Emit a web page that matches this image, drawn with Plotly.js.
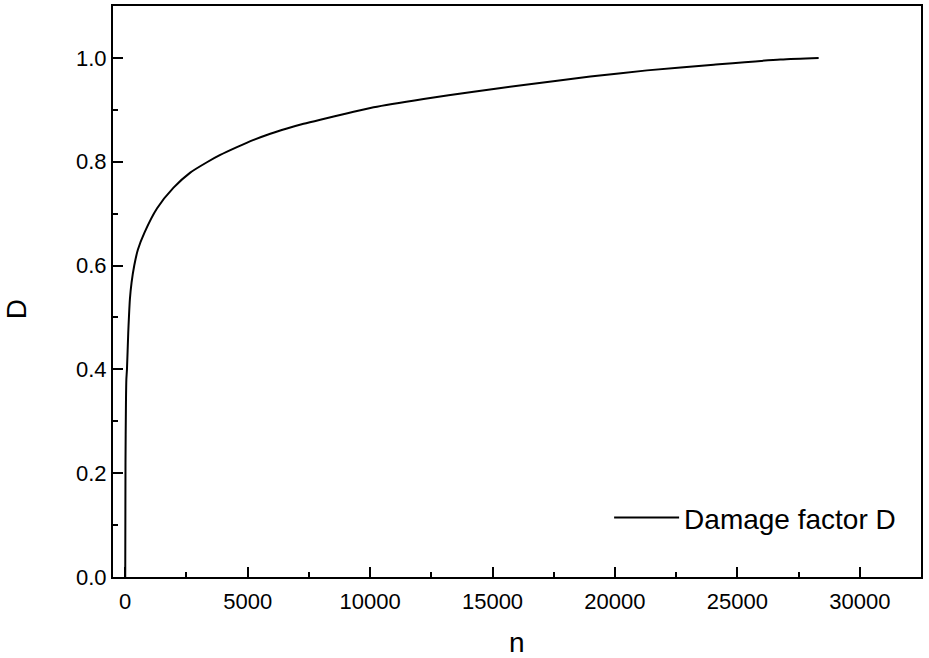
<!DOCTYPE html>
<html>
<head>
<meta charset="utf-8">
<script src="https://cdn.plot.ly/plotly-3.0.1.min.js"></script>
<style>html,body{margin:0;padding:0;background:#fff;}#chart{width:929px;height:658px;}</style>
</head>
<body>
<div id="chart"></div>
<script>
const cycles = [0, 10, 30, 45, 70, 122, 150, 190, 258, 368, 518, 790, 1295, 1973, 2655, 3337, 3881, 4562, 5242, 5923, 6605, 7283, 7966, 9122, 10143, 12186, 14228, 16271, 18995, 21311, 24033, 26757, 28320];
const damage = [0, 0.22, 0.34, 0.38, 0.40, 0.47, 0.50, 0.535, 0.567, 0.60, 0.631, 0.664, 0.710, 0.750, 0.779, 0.799, 0.813, 0.828, 0.842, 0.854, 0.864, 0.873, 0.881, 0.894, 0.905, 0.921, 0.935, 0.948, 0.964, 0.976, 0.987, 0.997, 1.0];
const xTickVals = [0, 5000, 10000, 15000, 20000, 25000, 30000];
const xTickText = ['0', '5000', '10000', '15000', '20000', '25000', '30000'];
const yTickVals = [0, 0.2, 0.4, 0.6, 0.8, 1.0];
const yTickText = ['0.0', '0.2', '0.4', '0.6', '0.8', '1.0'];
const seriesName = 'Damage factor D';
const xTitle = 'n';
const yTitle = 'D';

const font = 'Liberation Sans, Arial, Helvetica, sans-serif';

const trace = {
  x: cycles, y: damage, type: 'scatter', mode: 'lines', name: seriesName,
  line: {color: '#000', width: 2, shape: 'spline', smoothing: 0.7}
};

const layout = {
  width: 929, height: 658,
  margin: {l: 113, r: 8, t: 6, b: 81},
  paper_bgcolor: '#fff', plot_bgcolor: '#fff',
  font: {family: font, color: '#000', size: 22},
  showlegend: true,
  legend: {x: 0.614, y: 0.1035, xanchor: 'left', yanchor: 'middle', bgcolor: 'rgba(0,0,0,0)', borderwidth: 0,
    font: {size: 28, family: font, color: '#000'}, itemwidth: 65},
  xaxis: {
    range: [-500, 32500], tickvals: xTickVals, ticktext: xTickText,
    ticks: 'inside', ticklen: 10, tickwidth: 2, tickcolor: '#000',
    minor: {ticks: 'inside', ticklen: 5, tickwidth: 2, tickcolor: '#000', dtick: 2500, tick0: 0},
    showline: true, linewidth: 2, linecolor: '#000', mirror: true,
    showgrid: false, zeroline: false, tickfont: {size: 22}, ticklabelstandoff: 4
  },
  yaxis: {
    range: [0, 1.1], tickvals: yTickVals, ticktext: yTickText,
    ticks: 'inside', ticklen: 10, tickwidth: 2, tickcolor: '#000',
    minor: {ticks: 'inside', ticklen: 5, tickwidth: 2, tickcolor: '#000', dtick: 0.1, tick0: 0},
    showline: true, linewidth: 2, linecolor: '#000', mirror: true,
    showgrid: false, zeroline: false, tickfont: {size: 22}
  },
  annotations: [
    {text: xTitle, xref: 'paper', yref: 'paper', x: 0.5, y: (577 - 642) / 571, xanchor: 'center', yanchor: 'middle',
     showarrow: false, font: {size: 28, family: font, color: '#000'}},
    {text: yTitle, xref: 'paper', yref: 'paper', x: (16.3 - 113) / 808, y: (577 - 309) / 571, xanchor: 'center', yanchor: 'middle',
     textangle: -90, showarrow: false, font: {size: 28, family: font, color: '#000'}}
  ]
};

Plotly.newPlot('chart', [trace], layout, {displayModeBar: false, staticPlot: true});
</script>
</body>
</html>
